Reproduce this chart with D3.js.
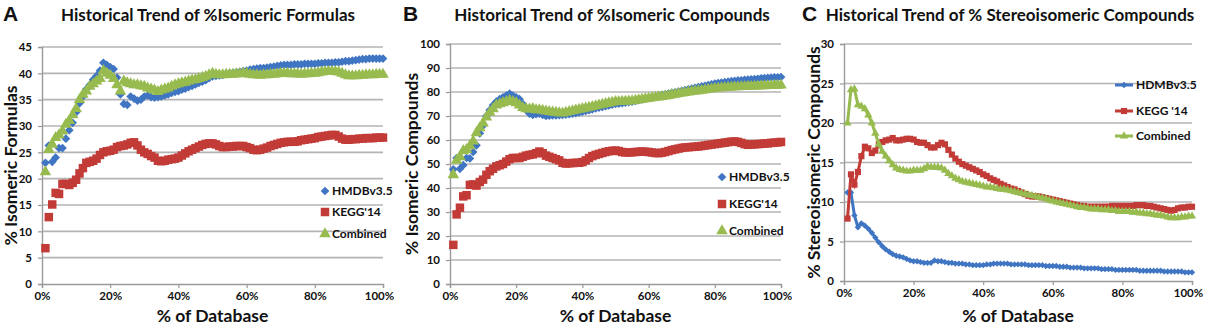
<!DOCTYPE html>
<meta charset="utf-8">
<style>
    body { margin: 0; background: #fff; overflow: hidden; }
    text { font-family: Lato, "Open Sans", sans-serif; font-weight: bold; fill: #111; }
</style>
<svg id="canvas" width="1205" height="326"></svg>
<script src="https://d3js.org/d3.v7.min.js"></script>
<script>

    // x positions: percent of database, 1..100
    var pct = d3.range(1, 101);

    var series_names = ["HMDBv3.5", "KEGG'14", "Combined"];
    var series_names_c = ["HDMBv3.5", "KEGG '14", "Combined"];

    // A: % isomeric formulas
    var formulas_hmdb = [23.0, 26.3, 23.2, 24.0, 25.8, 25.8, 27.6, 29.2, 30.6, 32.6,
        34.3, 35.6, 37.0, 37.8, 38.8, 39.5, 40.5, 42.0, 41.6, 41.2,
        40.8, 39.2, 36.0, 34.2, 34.0, 35.6, 35.2, 34.8, 35.0, 35.6,
        35.8, 35.5, 35.4, 35.5, 35.6, 35.8, 36.0, 36.3, 36.5, 36.6,
        36.9, 37.1, 37.4, 37.6, 37.9, 38.2, 38.4, 38.7, 39.1, 39.4,
        39.5, 39.6, 39.7, 39.9, 40.0, 40.1, 40.2, 40.3, 40.4, 40.5,
        40.7, 40.8, 40.9, 41.0, 41.0, 41.1, 41.2, 41.3, 41.4, 41.5,
        41.6, 41.6, 41.6, 41.7, 41.7, 41.7, 41.8, 41.8, 41.8, 41.8,
        41.9, 41.9, 42.0, 42.0, 42.0, 42.1, 42.1, 42.2, 42.3, 42.3,
        42.4, 42.5, 42.6, 42.7, 42.7, 42.8, 42.8, 42.8, 42.8, 42.8];
    var formulas_kegg = [6.8, 12.7, 15.1, 17.3, 17.1, 19.0, 19.0, 18.8, 19.2, 19.8,
        21.0, 22.0, 23.0, 23.2, 23.4, 23.8, 24.5, 25.0, 25.2, 25.3,
        25.5, 26.0, 26.2, 26.3, 26.5, 26.8, 26.9, 26.3, 25.5, 25.0,
        24.7, 24.3, 24.0, 23.4, 23.3, 23.4, 23.6, 23.7, 23.8, 24.0,
        24.4, 24.8, 25.2, 25.5, 25.8, 26.1, 26.4, 26.6, 26.7, 26.7,
        26.5, 26.2, 26.0, 26.0, 26.1, 26.1, 26.2, 26.2, 26.2, 26.0,
        25.8, 25.5, 25.4, 25.5, 25.7, 25.9, 26.2, 26.4, 26.6, 26.8,
        26.9, 27.0, 27.0, 27.0, 27.1, 27.3, 27.4, 27.5, 27.6, 27.7,
        27.9, 28.0, 28.1, 28.2, 28.3, 28.3, 28.0, 27.6, 27.4, 27.4,
        27.5, 27.5, 27.6, 27.6, 27.7, 27.7, 27.7, 27.8, 27.8, 27.8];
    var formulas_comb = [21.3, 25.5, 26.5, 27.8, 28.3, 29.0, 30.3, 31.0, 32.1, 33.3,
        35.0, 36.0, 36.6, 37.5, 38.0, 38.5, 39.0, 40.5, 40.0, 39.6,
        39.0, 37.8, 36.6, 38.5, 38.2, 38.0, 37.8, 37.8, 37.6, 37.5,
        37.2, 37.0, 36.8, 36.5, 36.8, 37.0, 37.2, 37.5, 37.8, 38.0,
        38.2, 38.3, 38.5, 38.7, 38.8, 39.0, 39.2, 39.4, 39.7, 40.0,
        39.8, 39.7, 39.7, 39.8, 39.8, 39.8, 39.9, 39.9, 40.0, 40.0,
        39.8, 39.7, 39.7, 39.6, 39.7, 39.7, 39.8, 39.8, 39.9, 40.0,
        40.0, 40.0, 39.9, 39.9, 39.9, 39.8, 39.9, 39.9, 40.0, 40.0,
        40.1, 40.2, 40.3, 40.3, 40.3, 40.3, 40.2, 40.0, 39.7, 39.5,
        39.5, 39.5, 39.6, 39.6, 39.7, 39.7, 39.7, 39.8, 39.8, 39.8];

    // B: % isomeric compounds
    var compounds_hmdb = [47.8, 52.5, 48.0, 49.5, 52.5, 52.3, 55.0, 57.8, 62.8, 66.0,
        70.0, 72.5, 74.5, 76.0, 77.0, 77.8, 78.5, 79.3, 78.5, 77.8,
        77.0, 75.0, 72.5, 71.0, 70.5, 70.8, 71.0, 70.5, 70.0, 70.2,
        70.3, 70.3, 70.4, 70.5, 70.6, 70.8, 71.0, 71.2, 71.5, 71.8,
        72.1, 72.4, 72.8, 73.2, 73.5, 73.8, 74.1, 74.4, 74.7, 75.0,
        75.2, 75.4, 75.6, 75.8, 76.0, 76.3, 76.6, 76.9, 77.2, 77.5,
        77.8, 78.1, 78.4, 78.7, 79.0, 79.3, 79.6, 79.9, 80.2, 80.5,
        80.8, 81.1, 81.4, 81.7, 82.0, 82.3, 82.6, 82.9, 83.2, 83.5,
        83.7, 83.9, 84.1, 84.3, 84.5, 84.6, 84.8, 84.9, 85.1, 85.2,
        85.3, 85.4, 85.5, 85.7, 85.8, 85.9, 86.0, 86.1, 86.1, 86.2];
    var compounds_kegg = [16.3, 29.0, 31.8, 36.5, 37.0, 41.3, 41.5, 41.0, 42.5, 43.5,
        45.5, 47.0, 48.0, 49.0, 49.5, 50.0, 51.0, 52.0, 52.5, 52.5,
        52.5, 53.0, 53.5, 53.8, 54.0, 54.5, 55.2, 54.5, 53.5, 53.0,
        52.5, 52.0, 51.5, 50.5, 50.2, 50.3, 50.4, 50.5, 50.5, 50.8,
        51.5, 52.5, 53.3, 53.8, 54.2, 54.6, 55.0, 55.3, 55.5, 55.6,
        55.4, 55.0, 54.8, 54.8, 54.9, 55.0, 55.1, 55.2, 55.1, 55.0,
        54.8, 54.6, 54.5, 54.7, 55.0, 55.4, 55.8, 56.1, 56.4, 56.7,
        56.9, 57.0, 57.1, 57.2, 57.3, 57.5, 57.7, 57.9, 58.1, 58.3,
        58.5, 58.7, 58.9, 59.1, 59.3, 59.4, 59.2, 58.8, 58.3, 58.0,
        58.1, 58.2, 58.3, 58.4, 58.5, 58.6, 58.8, 58.9, 59.0, 59.2];
    var compounds_comb = [45.5, 51.5, 53.0, 55.5, 56.0, 57.5, 59.5, 63.0, 65.0, 67.0,
        69.5, 71.5, 73.0, 74.5, 75.0, 75.5, 76.0, 76.5, 76.0, 75.5,
        74.5, 73.5, 73.0, 72.8, 73.0, 72.5, 72.5, 72.3, 72.0, 71.8,
        71.6, 71.5, 71.3, 71.2, 71.5, 71.8, 72.1, 72.4, 72.7, 73.0,
        73.3, 73.6, 73.9, 74.2, 74.5, 74.8, 75.1, 75.4, 75.7, 76.0,
        76.0, 76.1, 76.1, 76.2, 76.3, 76.5, 76.7, 76.9, 77.1, 77.3,
        77.5, 77.7, 77.9, 78.1, 78.3, 78.5, 78.8, 79.0, 79.3, 79.5,
        79.7, 79.9, 80.1, 80.3, 80.5, 80.7, 80.9, 81.1, 81.3, 81.5,
        81.6, 81.7, 81.8, 81.9, 82.0, 82.1, 82.1, 82.2, 82.2, 82.3,
        82.3, 82.4, 82.4, 82.5, 82.5, 82.6, 82.6, 82.7, 82.7, 82.8];

    // C: % stereoisomeric compounds
    var stereo_hmdb = [11.2, 11.2, 8.3, 6.8, 7.3, 7.0, 6.6, 6.1, 5.5, 4.9,
        4.4, 4.0, 3.7, 3.4, 3.2, 3.1, 3.0, 2.8, 2.6, 2.5,
        2.5, 2.4, 2.3, 2.3, 2.3, 2.6, 2.5, 2.5, 2.4, 2.3,
        2.3, 2.2, 2.2, 2.2, 2.1, 2.1, 2.0, 2.0, 2.0, 2.0,
        2.1, 2.1, 2.2, 2.2, 2.2, 2.2, 2.2, 2.1, 2.1, 2.1,
        2.1, 2.1, 2.0, 2.0, 2.0, 2.0, 2.0, 1.9, 1.9, 1.9,
        1.9, 1.8, 1.8, 1.8, 1.7, 1.7, 1.7, 1.7, 1.6, 1.6,
        1.6, 1.6, 1.6, 1.5, 1.5, 1.5, 1.5, 1.4, 1.4, 1.4,
        1.4, 1.4, 1.4, 1.4, 1.3, 1.3, 1.3, 1.3, 1.3, 1.3,
        1.3, 1.2, 1.2, 1.2, 1.2, 1.2, 1.2, 1.1, 1.1, 1.1];
    var stereo_kegg = [7.9, 13.5, 12.2, 13.8, 15.8, 17.0, 16.8, 16.2, 16.5, 17.3,
        17.6, 17.8, 17.9, 18.1, 17.8, 17.8, 17.9, 18.0, 18.0, 17.9,
        17.6, 17.5, 17.5, 17.2, 16.9, 16.9, 17.2, 17.5, 17.3, 16.6,
        16.0, 15.5, 15.1, 14.8, 14.6, 14.4, 14.2, 14.0, 13.8, 13.5,
        13.3, 13.0, 12.8, 12.6, 12.3, 12.1, 11.9, 11.7, 11.6, 11.4,
        11.2, 11.0, 10.8, 10.7, 10.7, 10.7, 10.6, 10.5, 10.4, 10.3,
        10.2, 10.1, 10.0, 9.9, 9.8, 9.7, 9.6, 9.5, 9.5, 9.4,
        9.4, 9.4, 9.4, 9.4, 9.4, 9.4, 9.5, 9.5, 9.5, 9.5,
        9.5, 9.5, 9.5, 9.6, 9.6, 9.6, 9.5, 9.5, 9.4, 9.3,
        9.2, 9.1, 9.0, 8.9, 9.0, 9.2, 9.3, 9.3, 9.4, 9.4];
    var stereo_comb = [20.0, 24.2, 24.3, 22.3, 22.1, 21.8, 21.0, 20.0, 18.7, 17.3,
        16.4, 15.8, 15.2, 14.7, 14.3, 14.1, 14.0, 13.9, 13.9, 14.0,
        14.0, 14.0, 14.2, 14.5, 14.4, 14.4, 14.4, 14.3, 14.0, 13.6,
        13.3, 13.0, 12.8, 12.6, 12.5, 12.4, 12.3, 12.2, 12.1, 12.0,
        11.9, 11.9, 11.8, 11.7, 11.6, 11.6, 11.5, 11.4, 11.3, 11.2,
        11.1, 11.0, 10.9, 10.8, 10.7, 10.6, 10.5, 10.4, 10.2, 10.1,
        10.0, 9.9, 9.8, 9.7, 9.6, 9.5, 9.4, 9.3, 9.3, 9.2,
        9.1, 9.1, 9.1, 9.0, 9.0, 9.0, 8.9, 8.9, 8.8, 8.8,
        8.8, 8.8, 8.7, 8.7, 8.6, 8.6, 8.5, 8.5, 8.4, 8.3,
        8.3, 8.2, 8.1, 8.0, 8.0, 8.0, 8.1, 8.1, 8.2, 8.2];

    var xticks = [0, 20, 40, 60, 80, 100];
    var colors = ["#3f75c2", "#c23b37", "#97bb4f"];

    var svg = d3.select("#canvas");

    var panels = [
        {letter: "A", title: "Historical Trend of %Isomeric Formulas", ytitle: "% Isomeric Formulas",
         left: 42, right: 383, top: 47, bottom: 284, ymax: 45, ystep: 5,
         data: [formulas_hmdb, formulas_kegg, formulas_comb], names: series_names,
         lines: false, legendX: 325, legendY: [191, 212, 234], titleX: 208, letterX: 3, ytitleX: 11},
        {letter: "B", title: "Historical Trend of %Isomeric Compounds", ytitle: "% Isomeric Compounds",
         left: 450, right: 781, top: 44, bottom: 284, ymax: 100, ystep: 10,
         data: [compounds_hmdb, compounds_kegg, compounds_comb], names: series_names,
         lines: false, legendX: 722, legendY: [177, 204, 231], titleX: 612, letterX: 403, ytitleX: 412},
        {letter: "C", title: "Historical Trend of % Stereoisomeric Compounds", ytitle: "% Stereoisomeric Compounds",
         left: 844, right: 1192, top: 44, bottom: 281, ymax: 30, ystep: 5,
         data: [stereo_hmdb, stereo_kegg, stereo_comb], names: series_names_c,
         lines: true, legendX: 1124, legendY: [85, 111, 136], titleX: 1010, letterX: 802, ytitleX: 814}
    ];

    function marker(i, big) {
        if (i === 0) return d3.symbol().type(d3.symbolSquare).size(big ? 38 : 20)();
        if (i === 1) return d3.symbol().type(d3.symbolSquare).size(big ? 72 : 38)();
        return d3.symbol().type(d3.symbolTriangle).size(big ? 58 : 30)();
    }

    panels.forEach(function(p) {
        var x = d3.scaleLinear().domain([0, 100]).range([p.left, p.right]);
        var y = d3.scaleLinear().domain([0, p.ymax]).range([p.bottom, p.top]);
        var g = svg.append("g");

        // gridlines
        g.append("g").selectAll("line")
            .data(d3.range(p.ystep, p.ymax + 0.01, p.ystep))
            .enter().append("line")
            .attr("x1", p.left).attr("x2", p.right)
            .attr("y1", function(d) { return y(d); }).attr("y2", function(d) { return y(d); })
            .attr("stroke", "#b4b4b4").attr("stroke-width", 1.6);

        // axes
        var yAxis = d3.axisLeft(y).tickValues(d3.range(0, p.ymax + 0.01, p.ystep))
            .tickSize(4).tickPadding(6);
        var xAxis = d3.axisBottom(x).tickValues(xticks).tickSize(4).tickPadding(4)
            .tickFormat(function(d) { return d + "%"; });

        var ya = g.append("g").attr("transform", "translate(" + p.left + ",0)").call(yAxis);
        var xa = g.append("g").attr("transform", "translate(0," + p.bottom + ")").call(xAxis);
        [ya, xa].forEach(function(a) {
            a.select(".domain").attr("stroke", "#9a9a9a").attr("stroke-width", 1.4);
            a.selectAll(".tick line").attr("stroke", "#9a9a9a").attr("stroke-width", 1.2);
            a.selectAll(".tick text").style("font-size", "11.5px").attr("fill", "#111");
        });
        // keep the last x label inside the window
        xa.selectAll(".tick text").filter(function(d) { return d === 100; }).attr("x", -4);

        // series
        p.data.forEach(function(vals, i) {
            var pts = pct.map(function(d, k) { return [d, vals[k]]; });
            var sg = g.append("g");
            if (p.lines) {
                sg.append("path")
                    .attr("d", d3.line().x(function(d) { return x(d[0]); }).y(function(d) { return y(d[1]); })(pts))
                    .attr("fill", "none").attr("stroke", colors[i]).attr("stroke-width", 3);
            }
            sg.selectAll("path.m").data(pts).enter().append("path")
                .attr("class", "m")
                .attr("d", marker(i, !p.lines))
                .attr("transform", function(d) {
                    return "translate(" + x(d[0]) + "," + y(d[1]) + ")" + (i === 0 ? " rotate(45)" : "");
                })
                .attr("fill", colors[i]);
        });

        // legend
        p.names.forEach(function(name, i) {
            var ly = p.legendY[i];
            if (p.lines) {
                g.append("line").attr("x1", p.legendX - 9).attr("x2", p.legendX + 9)
                    .attr("y1", ly).attr("y2", ly)
                    .attr("stroke", colors[i]).attr("stroke-width", 3);
            }
            g.append("path").attr("d", marker(i, !p.lines))
                .attr("transform", "translate(" + p.legendX + "," + ly + ")" + (i === 0 ? " rotate(45)" : ""))
                .attr("fill", colors[i]);
            g.append("text").attr("x", p.legendX + (p.lines ? 12 : 7)).attr("y", ly + 4)
                .style("font-size", "12px").text(name);
        });

        // titles
        g.append("text").attr("x", p.titleX).attr("y", 21).attr("text-anchor", "middle")
            .style("font-size", "17px").text(p.title);
        g.append("text").attr("x", p.letterX).attr("y", 21)
            .style("font-family", "Liberation Sans, Arial, sans-serif").style("font-size", "21px")
            .text(p.letter);
        g.append("text").attr("x", (p.left + p.right) / 2).attr("y", 322).attr("text-anchor", "middle")
            .style("font-size", "17.5px").text("% of Database");
        g.append("text")
            .attr("transform", "translate(" + p.ytitleX + "," + ((p.top + p.bottom) / 2) + ") rotate(-90)")
            .attr("text-anchor", "middle").attr("dy", "0.35em")
            .style("font-size", "17.5px").text(p.ytitle);
    });

</script>
